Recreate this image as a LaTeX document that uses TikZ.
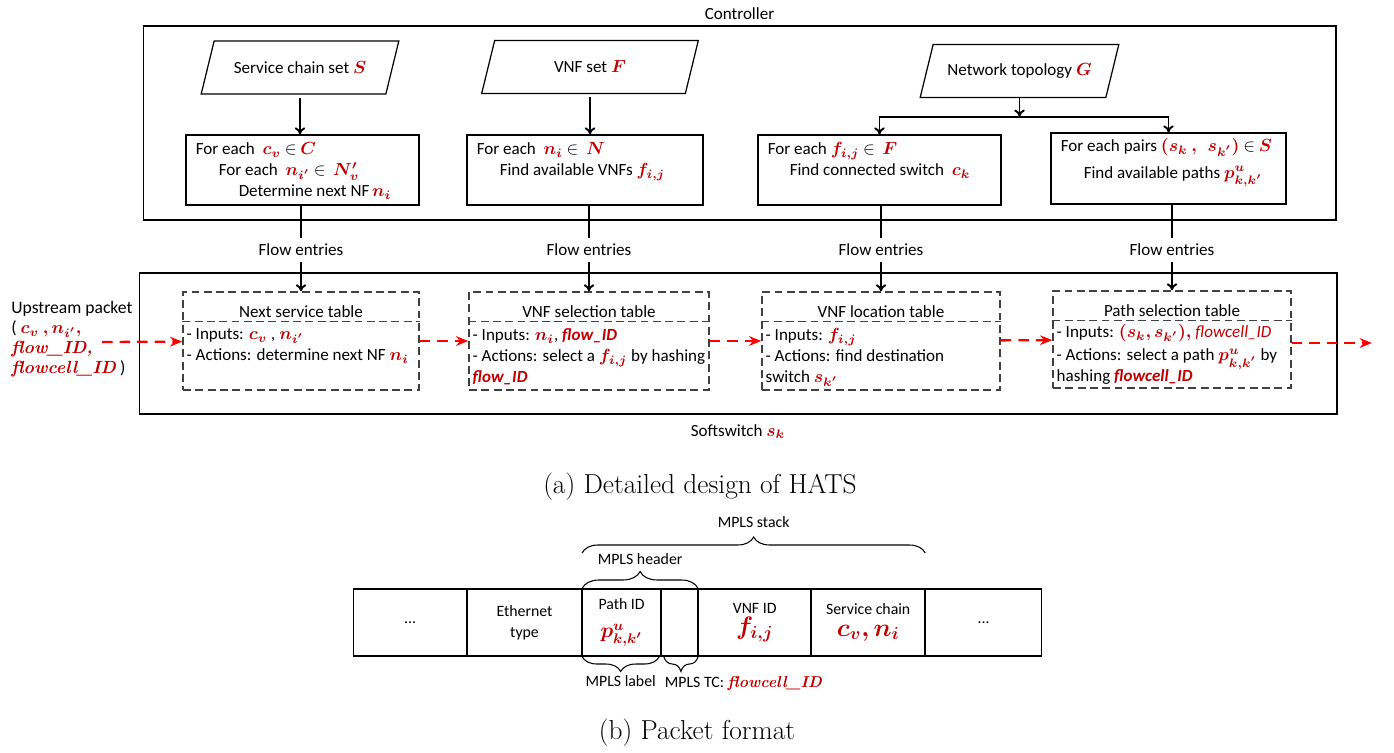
\documentclass[tikz,border=0pt]{standalone}
\usepackage{fontspec}
\setsansfont{Carlito}
\usepackage{bm}
\usetikzlibrary{arrows.meta,decorations.pathreplacing}

\definecolor{hatsred}{RGB}{192,0,0}
\newcommand{\rd}[1]{\textcolor{hatsred}{$\bm{#1}$}}
\newcommand{\rdsf}[1]{\textcolor{hatsred}{\textbf{\textit{#1}}}}
\newcommand{\rdrm}[1]{\textcolor{hatsred}{\rmfamily\bfseries\itshape #1}}

\tikzset{every node/.style={font=\sffamily\fontsize{9.7}{11.9}\selectfont}}

\begin{document}
\begin{tikzpicture}[x=0.02cm,y=-0.02cm,
  box/.style={draw,line width=0.7pt,inner sep=0pt,minimum height=1.4cm},
  inset/.style={inner sep=0pt,minimum height=1.05cm},
  tbl/.style={draw=black!75,line width=0.8pt,dash pattern=on 4.5pt off 2.5pt,inner sep=0pt,minimum height=1.96cm},
  tblline/.style={draw=black!75,line width=0.8pt,dash pattern=on 4.5pt off 2.5pt},
  lines/.style={inner sep=0pt,anchor=north west,align=left},
  arr/.style={line width=1.1pt,-{To[length=4pt,width=6pt]}},
  pkt/.style={draw=red,line width=1.3pt,dash pattern=on 6pt off 4pt,-{Stealth[length=7pt,width=5.5pt]}},
  cell/.style={draw,line width=0.6pt,minimum height=1.34cm,inner sep=0pt,align=center,anchor=west,font=\sffamily\fontsize{9}{12}\selectfont},
  brc/.style={decorate,line width=0.6pt},
  small/.style={font=\sffamily\fontsize{9}{11}\selectfont},
  caption/.style={font=\rmfamily\fontsize{15.6}{19}\selectfont}]
\useasboundingbox (0,0) rectangle (1394,753);

% controller and softswitch frames
\node[draw,line width=0.7pt,minimum width=23.86cm,minimum height=3.88cm] (ctrl) at (739.5,123) {};
\node[above] (ctrlname) at (ctrl.north) {Controller};
\node[draw,line width=0.7pt,minimum width=23.96cm,minimum height=2.82cm] (sw) at (738,343.5) {};
\node[below=2pt] (swname) at (sw.south) {Softswitch \rd{s_k}};

% inputs
\node[inset,minimum width=3.68cm] (setS) at (300,67.5) {Service chain set \rd{S}};
\node[inset,minimum width=4.06cm] (setF) at (590,67) {VNF set \rd{F}};
\node[inset,minimum width=3.7cm] (topoG) at (1019.5,71) {Network topology \rd{G}};
\foreach \n in {setS,setF,topoG}
  \draw[line width=0.7pt] ([xshift=0.13cm]\n.north west) -- ([xshift=0.13cm]\n.north east) -- ([xshift=-0.13cm]\n.south east) -- ([xshift=-0.13cm]\n.south west) -- cycle;

\node[box,minimum width=4.66cm] (nextNF) at (302.5,170) {};
\node[box,minimum width=4.72cm] (findVNF) at (585,170) {};
\node[box,minimum width=4.86cm] (findSw) at (879.5,170) {};
\node[box,minimum width=4.7cm,minimum height=1.42cm] (findPath) at (1168.5,168.5) {};

\node[lines] (nextNFtxt) at ([xshift=0.2cm,yshift=-0.16cm]nextNF.north west)
  {For each \ \rd{c_v} $\in$ \rd{C}\\ \hspace*{0.46cm}For each \ \rd{n_{i'}} $\in$ \ \rd{N'_v}\\ \hspace*{0.86cm}Determine next NF\,\rd{n_i}};
\node[lines] (findVNFtxt) at ([xshift=0.2cm,yshift=-0.16cm]findVNF.north west)
  {For each \ \rd{n_i} $\in$ \ \rd{N}\\ \hspace*{0.46cm}Find available VNFs \rd{f_{i,j}}};
\node[lines] (findSwtxt) at ([xshift=0.2cm,yshift=-0.16cm]findSw.north west)
  {For each \rd{f_{i,j}} $\in$ \ \rd{F}\\ \hspace*{0.44cm}Find connected switch \ \rd{c_k}};
\node[lines] (findPathtxt) at ([xshift=0.2cm,yshift=-0.12cm]findPath.north west)
  {For each pairs \rd{(s_k\ ,\ \ s_{k'})} $\in$ \rd{S}\\[3pt] \hspace*{0.46cm}Find available paths \rd{p^u_{k,k'}}};

\draw[arr] ([yshift=-2pt]setS.south) -- (setS.south |- nextNF.north);
\draw[arr] ([yshift=-2pt]setF.south) -- (setF.south |- findVNF.north);
\coordinate (split) at ([yshift=-0.38cm]topoG.south);
\draw[arr] (topoG.south) -- (split);
\draw[arr] (split) -| (findSw.north);
\draw[arr] (split) -| (findPath.north);

% flow tables in the softswitch
\node[tbl,minimum width=4.72cm] (nextT) at (301,341) {};
\node[tbl,minimum width=4.8cm] (vnfT) at (589,341) {};
\node[tbl,minimum width=4.76cm] (locT) at (881,341) {};
\node[tbl,minimum width=4.76cm,minimum height=1.94cm] (pathT) at (1172,339.5) {};
\foreach \t in {nextT,vnfT,locT,pathT}
  \draw[tblline] ([yshift=-0.6cm]\t.north west) -- ([yshift=-0.6cm]\t.north east);

\node (nextTname) at ([yshift=-0.4cm]nextT.north) {Next service table};
\node (vnfTname) at ([yshift=-0.4cm]vnfT.north) {VNF selection table};
\node (locTname) at ([yshift=-0.4cm]locT.north) {VNF location table};
\node (pathTname) at ([yshift=-0.4cm]pathT.north) {Path selection table};

\node[lines] (nextTtxt) at ([xshift=0.08cm,yshift=-0.74cm]nextT.north west)
  {- Inputs: \rd{c_v}\ , \rd{n_{i'}}\\- Actions: determine next NF \rd{n_i}};
\node[lines] (vnfTtxt) at ([xshift=0.08cm,yshift=-0.74cm]vnfT.north west)
  {- Inputs: \rd{n_i}, \rdsf{flow\_ID}\\- Actions: select a \rd{f_{i,j}} by hashing\\\rdsf{flow\_ID}};
\node[lines] (locTtxt) at ([xshift=0.08cm,yshift=-0.74cm]locT.north west)
  {- Inputs: \rd{f_{i,j}}\\- Actions: find destination\\switch \rd{s_{k'}}};
\node[lines] (pathTtxt) at ([xshift=0.08cm,yshift=-0.68cm]pathT.north west)
  {- Inputs: \rd{(s_k,s_{k'}),} \textcolor{hatsred}{\textit{flowcell\_ID}}\\[1pt]- Actions: select a path \rd{p^u_{k,k'}} by\\[-1pt]hashing \rdsf{flowcell\_ID}};

\foreach \b/\t/\f in {nextNF/nextT/fe1,findVNF/vnfT/fe2,findSw/locT/fe3,findPath/pathT/fe4} {
  \node (\f) at (\t.north |- 0,250) {Flow entries};
  \draw[line width=1.1pt] (\t.north |- \b.south) -- (\f.north);
  \draw[arr] (\f.south) -- (\t.north);
}

% upstream packet through the tables
\node[lines,font=\sffamily\fontsize{10}{11.4}\selectfont] (upstream) at (11,301)
  {Upstream packet\\( \rd{c_v\ ,n_{i'},}\\\rdrm{flow\_ID,}\\\rdrm{flowcell\_ID} )};
\coordinate (pin) at (102,342);
\coordinate (pout) at (1372,343);
\draw[pkt] (pin) -- (nextT);
\draw[pkt] (nextT) -- (vnfT);
\draw[pkt] (vnfT) -- (locT);
\draw[pkt] (locT) -- (pathT);
\draw[pkt] (pathT.east |- pout) -- (pout);

\node[caption] (capA) at (700,487) {(a) Detailed design of HATS};

% packet format
\node[cell,minimum width=2.26cm] (dotsL) at (353,622.5) {...};
\node[cell,minimum width=2.28cm] (ethtype) at (dotsL.east) {Ethernet\\type};
\node[cell,minimum width=1.56cm] (pathid) at (ethtype.east) {Path ID\\[4pt]{\large\rd{p^u_{k,k'}}}};
\node[cell,minimum width=0.72cm] (tc) at (pathid.east) {};
\node[cell,minimum width=2.24cm] (vnfid) at (tc.east) {VNF ID\\{\Large\rd{f_{i,j}}}};
\node[cell,minimum width=2.26cm] (chain) at (vnfid.east) {Service chain\\{\Large\rd{c_v, n_i}}};
\node[cell,minimum width=2.32cm] (dotsR) at (chain.east) {...};

\draw[brc,decoration={brace,amplitude=0.32cm}] (pathid.west |- 0,553) -- (chain.east |- 0,553)
  node[small,midway,above=0.38cm] (stack) {MPLS stack};
\draw[brc,decoration={brace,amplitude=0.34cm}] (pathid.north west) -- (tc.north east)
  node[small,midway,above=0.34cm] (header) {MPLS header};
\draw[brc,decoration={brace,amplitude=0.3cm}] ([xshift=-1pt]pathid.south east) -- (pathid.south west)
  node[small,midway,below=0.26cm] (label) {MPLS label};
\draw[brc,decoration={brace,amplitude=0.3cm}] (tc.south east) -- ([xshift=1.5pt]tc.south west)
  node[small,at end,anchor=north west,yshift=-0.26cm,xshift=-3pt] (tclabel) {MPLS TC: \rdrm{flowcell\_ID}};

\node[caption] (capB) at (697,733) {(b) Packet format};
\end{tikzpicture}
\end{document}
